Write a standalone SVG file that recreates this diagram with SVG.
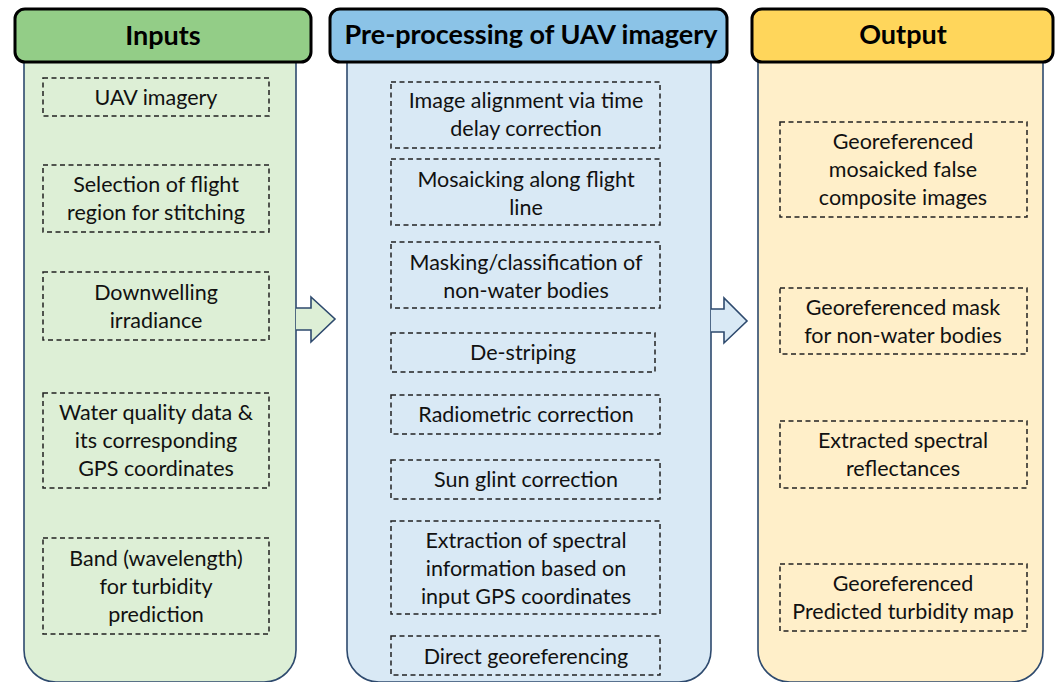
<svg xmlns="http://www.w3.org/2000/svg" width="1056" height="682" viewBox="0 0 1056 682">
  <style>
    .body { stroke: #2E4A6E; stroke-width: 1.6; }
    .head { stroke: #000; stroke-width: 3; }
    .step { fill: none; stroke: #222; stroke-width: 1.5; stroke-dasharray: 5 3.5; }
    .label { font-family: Lato, "Open Sans", sans-serif; font-size: 21.5px; fill: #111; text-anchor: middle; }
    .title { font-family: Lato, "Open Sans", sans-serif; font-size: 27px; font-weight: bold; fill: #000; text-anchor: middle; }
    .arrow { stroke: #2E4A6E; stroke-width: 1.6; stroke-linejoin: miter; }
  </style>
  <rect width="1056" height="682" fill="#fff"/>

  <!-- column bodies -->
  <g id="col-inputs">
    <rect class="body" x="24" y="30" width="272" height="652" rx="32" fill="#DDEFD6"/>
    <rect class="head" x="15" y="9" width="296" height="53" rx="10" fill="#93CD87"/>
    <text class="title" x="163" y="45">Inputs</text>
  </g>
  <g id="col-preprocessing">
    <rect class="body" x="347" y="30" width="364" height="652" rx="32" fill="#D9E9F5"/>
    <rect class="head" x="330" y="9" width="397" height="53" rx="10" fill="#8BC3E7"/>
    <text class="title" x="531" y="44">Pre-processing of UAV imagery</text>
  </g>
  <g id="col-output">
    <rect class="body" x="758" y="30" width="285" height="652" rx="32" fill="#FFEFC9"/>
    <rect class="head" x="752" y="9" width="301" height="53" rx="10" fill="#FFD65B"/>
    <text class="title" x="903" y="44">Output</text>
  </g>

  <!-- connectors -->
  <g id="connectors">
    <path class="arrow" d="M296 308 H311 V297 L335 319 L311 342 V330 H296" fill="#DDEFD6"/>
    <path class="arrow" d="M711 309 H724 V298 L747 321 L724 343 V332 H711" fill="#D9E9F5"/>
  </g>

  <!-- inputs -->
  <g id="in-uav">
    <rect class="step" x="43" y="78" width="226" height="38"/>
    <text class="label" x="156" y="105">UAV imagery</text>
  </g>
  <g id="in-region">
    <rect class="step" x="43" y="165" width="226" height="67"/>
    <text class="label" x="156" y="192">Selection of flight</text>
    <text class="label" x="156" y="220">region for stitching</text>
  </g>
  <g id="in-irradiance">
    <rect class="step" x="43" y="272" width="226" height="68"/>
    <text class="label" x="156" y="300">Downwelling</text>
    <text class="label" x="156" y="328">irradiance</text>
  </g>
  <g id="in-waterquality">
    <rect class="step" x="43" y="393" width="226" height="95"/>
    <text class="label" x="156" y="420">Water quality data &amp;</text>
    <text class="label" x="156" y="448">its corresponding</text>
    <text class="label" x="156" y="476">GPS coordinates</text>
  </g>
  <g id="in-band">
    <rect class="step" x="43" y="538" width="226" height="96"/>
    <text class="label" x="156" y="566">Band (wavelength)</text>
    <text class="label" x="156" y="594">for turbidity</text>
    <text class="label" x="156" y="622">prediction</text>
  </g>

  <!-- pre-processing steps -->
  <g id="pp-alignment">
    <rect class="step" x="391" y="82" width="269" height="66"/>
    <text class="label" x="526" y="108">Image alignment via time</text>
    <text class="label" x="526" y="136">delay correction</text>
  </g>
  <g id="pp-mosaic">
    <rect class="step" x="391" y="159" width="269" height="66"/>
    <text class="label" x="526" y="187">Mosaicking along flight</text>
    <text class="label" x="526" y="215">line</text>
  </g>
  <g id="pp-masking">
    <rect class="step" x="391" y="242" width="269" height="66"/>
    <text class="label" x="526" y="270">Masking/classification of</text>
    <text class="label" x="526" y="298">non-water bodies</text>
  </g>
  <g id="pp-destriping">
    <rect class="step" x="391" y="333" width="264" height="39"/>
    <text class="label" x="523" y="360">De-striping</text>
  </g>
  <g id="pp-radiometric">
    <rect class="step" x="391" y="395" width="269" height="39"/>
    <text class="label" x="526" y="422">Radiometric correction</text>
  </g>
  <g id="pp-sunglint">
    <rect class="step" x="391" y="460" width="269" height="39"/>
    <text class="label" x="526" y="487">Sun glint correction</text>
  </g>
  <g id="pp-extraction">
    <rect class="step" x="391" y="521" width="269" height="93"/>
    <text class="label" x="526" y="548">Extraction of spectral</text>
    <text class="label" x="526" y="576">information based on</text>
    <text class="label" x="526" y="604">input GPS coordinates</text>
  </g>
  <g id="pp-georef">
    <rect class="step" x="391" y="636" width="269" height="39"/>
    <text class="label" x="526" y="664">Direct georeferencing</text>
  </g>

  <!-- outputs -->
  <g id="out-mosaic">
    <rect class="step" x="780" y="122" width="247" height="95"/>
    <text class="label" x="903" y="149">Georeferenced</text>
    <text class="label" x="903" y="177">mosaicked false</text>
    <text class="label" x="903" y="205">composite images</text>
  </g>
  <g id="out-mask">
    <rect class="step" x="780" y="288" width="247" height="66"/>
    <text class="label" x="903" y="315">Georeferenced mask</text>
    <text class="label" x="903" y="343">for non-water bodies</text>
  </g>
  <g id="out-reflectance">
    <rect class="step" x="780" y="421" width="247" height="67"/>
    <text class="label" x="903" y="448">Extracted spectral</text>
    <text class="label" x="903" y="476">reflectances</text>
  </g>
  <g id="out-turbidity">
    <rect class="step" x="780" y="564" width="247" height="67"/>
    <text class="label" x="903" y="591">Georeferenced</text>
    <text class="label" x="903" y="619">Predicted turbidity map</text>
  </g>
</svg>
